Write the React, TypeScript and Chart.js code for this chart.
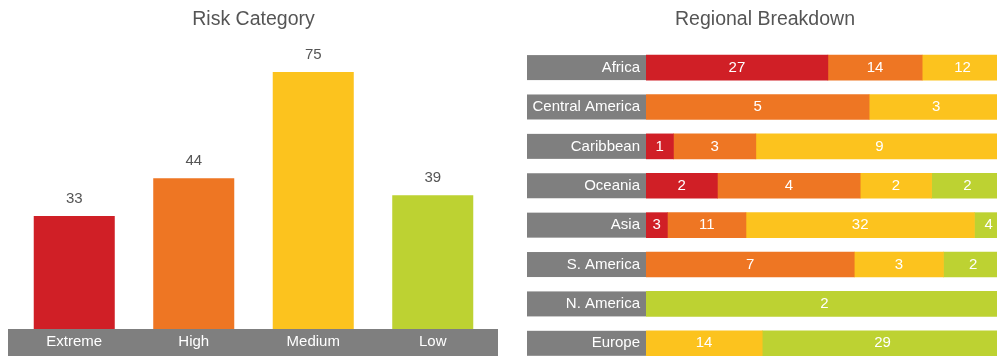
import React, { useEffect, useRef } from "react";
import { Chart, registerables } from "chart.js";

Chart.register(...registerables);

// ---- Data ----
const riskCategories = ["Extreme", "High", "Medium", "Low"];
const riskCounts = [33, 44, 75, 39];

const regions = [
  "Africa",
  "Central America",
  "Caribbean",
  "Oceania",
  "Asia",
  "S. America",
  "N. America",
  "Europe",
];
const extremeByRegion = [27, 0, 1, 2, 3, 0, 0, 0];
const highByRegion = [14, 5, 3, 4, 11, 7, 0, 0];
const mediumByRegion = [12, 3, 9, 2, 32, 3, 0, 14];
const lowByRegion = [0, 0, 0, 2, 4, 2, 2, 29];

// ---- Styles ----
const RED = "#D01F26";
const ORANGE = "#EE7623";
const YELLOW = "#FCC31E";
const GREEN = "#BDD232";
const GRAY = "#7F7F7F";
const TEXT = "#555555";
const FONT = "'Liberation Sans', Arial, Helvetica, sans-serif";

const riskColors = [RED, ORANGE, YELLOW, GREEN];

export default function App() {
  const leftRef = useRef<HTMLCanvasElement | null>(null);
  const rightRef = useRef<HTMLCanvasElement | null>(null);

  useEffect(() => {
    const leftCanvas = leftRef.current!;
    const rightCanvas = rightRef.current!;

    // ----- Left chart: Risk Category -----
    const axisBandPlugin = {
      id: "axisBand",
      beforeDraw(chart: any) {
        const x = chart.scales.x;
        const ctx = chart.ctx;
        ctx.save();
        ctx.fillStyle = GRAY;
        ctx.fillRect(x.left - 6.5, x.top, x.right - x.left + 12, x.bottom - x.top);
        ctx.restore();
      },
    };
    const valueLabelPlugin = {
      id: "valueLabels",
      afterDatasetsDraw(chart: any) {
        const ctx = chart.ctx;
        const meta = chart.getDatasetMeta(0);
        ctx.save();
        ctx.fillStyle = TEXT;
        ctx.font = `15px ${FONT}`;
        ctx.textAlign = "center";
        ctx.textBaseline = "middle";
        meta.data.forEach((el: any, i: number) => {
          ctx.fillText(String(riskCounts[i]), el.x, el.y - 17);
        });
        ctx.restore();
      },
    };

    const left = new Chart(leftCanvas, {
      type: "bar",
      data: {
        labels: riskCategories,
        datasets: [
          {
            data: riskCounts,
            backgroundColor: riskColors,
            borderWidth: 0,
            barPercentage: 0.678,
            categoryPercentage: 1,
          },
        ],
      },
      options: {
        responsive: false,
        animation: false,
        devicePixelRatio: 1,
        layout: { padding: { left: 14.5, right: 14.5, top: 0, bottom: 0 } },
        plugins: {
          legend: { display: false },
          tooltip: { enabled: false },
          title: {
            display: true,
            text: "Risk Category",
            color: TEXT,
            font: { size: 19.5, family: FONT, weight: "normal" },
            padding: { top: 8, bottom: 6.3 },
          },
        },
        scales: {
          x: {
            grid: { display: false, drawTicks: false },
            border: { display: false },
            ticks: {
              color: "#FFFFFF",
              font: { size: 15, family: FONT },
              padding: 4,
            },
            afterFit: (s: any) => {
              s.height = 27;
            },
          },
          y: {
            display: false,
            min: 0,
            max: 85,
          },
        },
      } as any,
      plugins: [axisBandPlugin, valueLabelPlugin],
    });

    // ----- Right chart: Regional Breakdown -----
    const counts = [extremeByRegion, highByRegion, mediumByRegion, lowByRegion];
    const totals = regions.map((_, i) =>
      counts.reduce((sum, arr) => sum + arr[i], 0)
    );
    const toShare = (arr: number[]) =>
      arr.map((v, i) => (v ? (v / totals[i]) * 100 : null));
    const seriesColors = [RED, ORANGE, YELLOW, GREEN];
    const seriesNames = ["Extreme", "High", "Medium", "Low"];

    const labelBoxPlugin = {
      id: "labelBoxes",
      beforeDraw(chart: any) {
        const y = chart.scales.y;
        const ctx = chart.ctx;
        ctx.save();
        ctx.fillStyle = GRAY;
        y.ticks.forEach((_: any, i: number) => {
          const py = y.getPixelForTick(i);
          ctx.fillRect(y.left, py - 12.5, y.right - y.left, 25);
        });
        ctx.restore();
      },
    };
    const segmentLabelPlugin = {
      id: "segmentLabels",
      afterDatasetsDraw(chart: any) {
        const ctx = chart.ctx;
        ctx.save();
        ctx.fillStyle = "#FFFFFF";
        ctx.font = `15px ${FONT}`;
        ctx.textAlign = "center";
        ctx.textBaseline = "middle";
        counts.forEach((arr, d) => {
          const meta = chart.getDatasetMeta(d);
          meta.data.forEach((el: any, i: number) => {
            if (!arr[i] || !el) return;
            const c = el.getCenterPoint();
            if (!isFinite(c.x) || !isFinite(c.y)) return;
            ctx.fillText(String(arr[i]), c.x, c.y);
          });
        });
        ctx.restore();
      },
    };

    const right = new Chart(rightCanvas, {
      type: "bar",
      data: {
        labels: regions,
        datasets: counts.map((arr, d) => ({
          label: seriesNames[d],
          data: toShare(arr),
          backgroundColor: seriesColors[d],
          borderWidth: 0,
          barThickness: 25,
        })),
      },
      options: {
        indexAxis: "y",
        responsive: false,
        animation: false,
        devicePixelRatio: 1,
        layout: { padding: { left: 7, right: 0, top: 0, bottom: 2 } },
        plugins: {
          legend: { display: false },
          tooltip: { enabled: false },
          title: {
            display: true,
            text: "Regional Breakdown",
            color: TEXT,
            font: { size: 19.5, family: FONT, weight: "normal" },
            padding: { top: 8, bottom: 16.5 },
          },
        },
        scales: {
          x: {
            display: false,
            stacked: true,
            min: 0,
            max: 100,
          },
          y: {
            stacked: true,
            grid: { display: false, drawTicks: false },
            border: { display: false },
            ticks: {
              color: "#FFFFFF",
              font: { size: 15, family: FONT },
              padding: 6,
            },
            afterFit: (s: any) => {
              s.width = 119;
            },
          },
        },
      } as any,
      plugins: [labelBoxPlugin, segmentLabelPlugin],
    });

    return () => {
      left.destroy();
      right.destroy();
    };
  }, []);

  return (
    <div
      style={{
        position: "fixed",
        left: 0,
        top: 0,
        width: 997,
        height: 356,
        overflow: "hidden",
        background: "#FFFFFF",
      }}
    >
      <canvas
        ref={leftRef}
        width={507}
        height={356}
        style={{ position: "absolute", left: 0, top: 0, width: 507, height: 356 }}
      />
      <canvas
        ref={rightRef}
        width={483}
        height={378}
        style={{ position: "absolute", left: 520, top: 0, width: 483, height: 378 }}
      />
    </div>
  );
}
